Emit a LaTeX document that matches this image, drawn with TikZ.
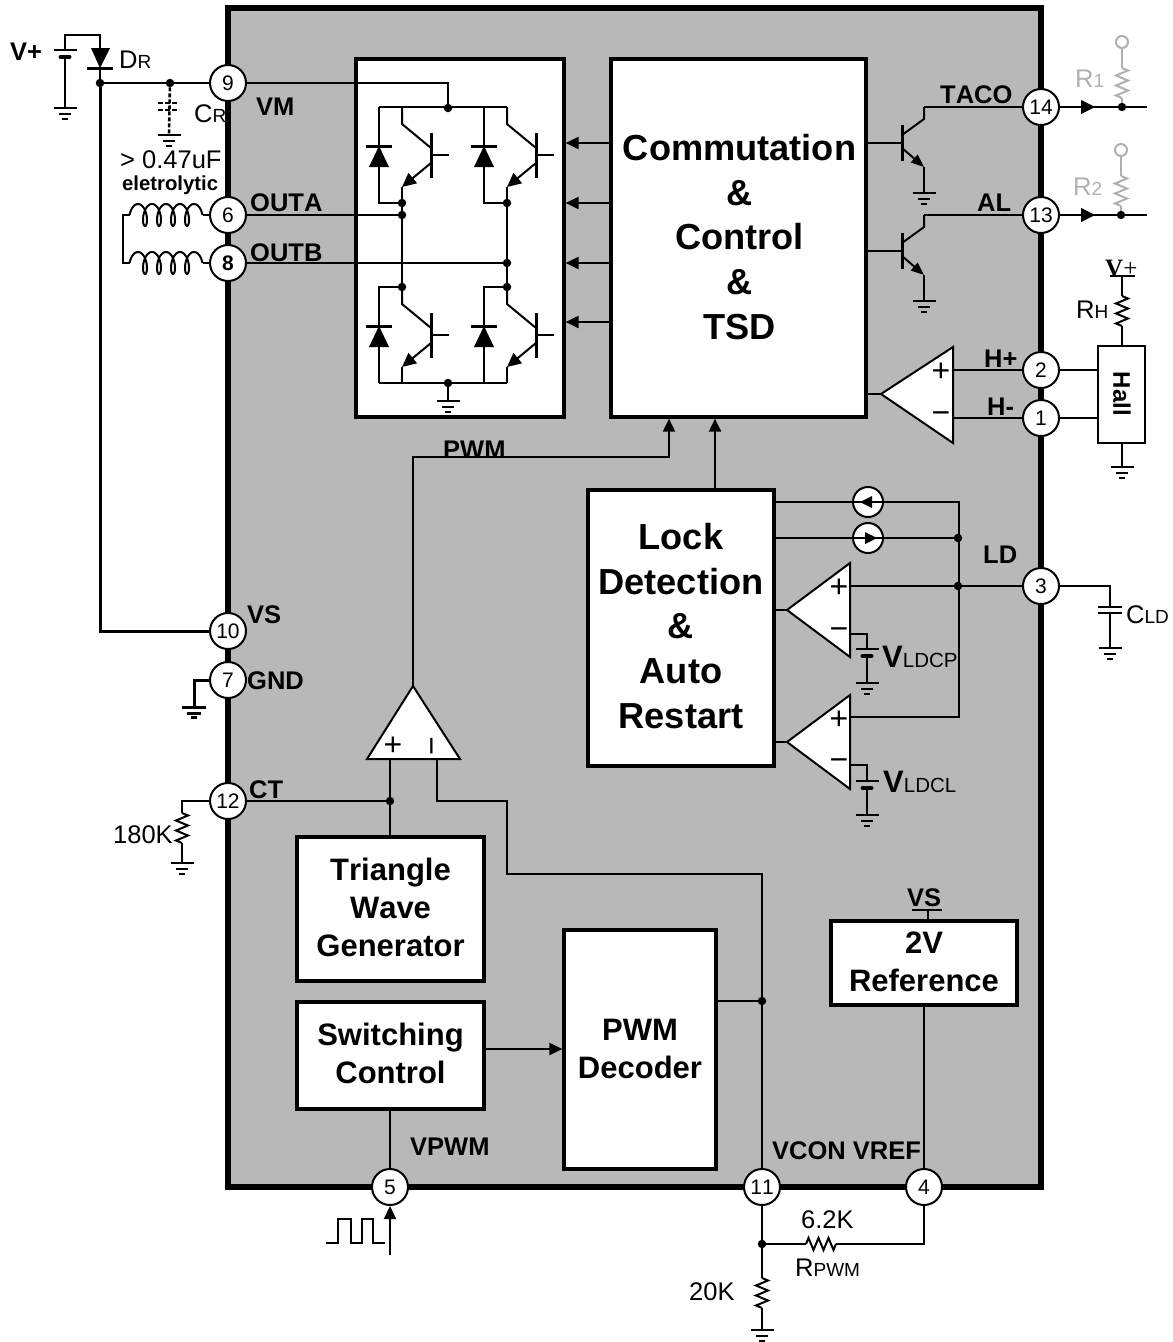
\documentclass[tikz,border=0pt]{standalone}
\usepackage{fontspec}
\setmainfont[Kerning=Off]{Liberation Sans}
\newfontfamily\vserif{Liberation Serif}
\usetikzlibrary{arrows.meta,calc}
\definecolor{chipgray}{RGB}{184,184,184}
\definecolor{softgray}{RGB}{176,176,176}
\newcommand{\fsz}[1]{\fontsize{#1}{#1}\selectfont}
\newcommand{\sublab}[2]{\fsz{25.5}#1\fsz{19}#2}
\tikzset{
  wire/.style={line width=2pt,line join=miter},
  thickwire/.style={line width=3pt},
  blk/.style={draw,fill=white,line width=3.2pt,inner sep=0pt},
  bigtext/.style={inner sep=0pt,align=center,font=\bfseries\fontsize{36.2}{44.7}\selectfont},
  midtext/.style={inner sep=0pt,align=center,font=\bfseries\fontsize{31}{38}\selectfont},
  pinnode/.style={circle,draw,fill=white,line width=2pt,minimum size=36pt,inner sep=0pt,font=\fsz{21}},
  dotnode/.style={circle,fill=black,minimum size=8.5pt,inner sep=0pt},
  lab/.style={inner sep=0pt,anchor=base west,font=\bfseries\fsz{25.5}},
  reg/.style={inner sep=0pt,anchor=base west,font=\fsz{25.5}},
  sign/.style={inner sep=0pt,font=\fsz{32}},
  ahead/.style={-{Triangle[length=13pt,width=12pt]}},
  ehead/.style={-{Triangle[length=14pt,width=13pt]}},
  gndsym/.pic={\draw[line width=2pt] (-11.5,0)--(11.5,0) (-6,6)--(6,6) (-3,11)--(3,11);},
  resv/.pic={\draw[line width=2pt,line join=miter] (0,0)--(6,2.5)--(-6,7.5)--(6,12.5)--(-6,17.5)--(6,22.5)--(-6,27.5)--(0,30);},
  gatebar/.style={line width=3pt},
  igbt/.pic={
    \draw[wire] (0,0)--(0,17)--(29,41);
    \draw[gatebar] (29,26)--(29,71);
    \draw[wire] (29,48)--(47,48);
    \draw[wire,ehead] (29,56)--(0,80);
    \draw[wire] (0,80)--(0,96);
  },
  bdiode/.pic={
    \fill (0,0)--(-10,21)--(10,21)--cycle;
    \draw[line width=3pt] (-13,0)--(13,0);
  },
  npn/.pic={
    \draw[gatebar] (0,-18)--(0,18);
    \draw[wire] (0,-8)--(22,-24)--(22,-36);
    \draw[wire,-{Triangle[length=13pt,width=10pt]}] (0,5)--(22,24);
    \draw[wire] (22,24)--(22,50);
  },
  bat/.pic={
    \draw[line width=2pt] (-11.5,0)--(11.5,0);
    \draw[line width=4pt,line cap=round] (-4.5,7)--(4.5,7);
  },
}
\begin{document}
\begin{tikzpicture}[x=1pt,y=-1pt]
\useasboundingbox (0,0) rectangle (1173,1342);
% chip body
\draw[line width=6pt,fill=chipgray] (228,8) rectangle (1041,1187);

% function blocks
\node[blk,minimum width=208pt,minimum height=358pt] (bridge) at (460,238) {};
\node[blk,minimum width=255pt,minimum height=358pt] (com) at (738.5,238) {};
\node[bigtext] (comt) at (739.5,237) {Commutation\\\&\\Control\\\&\\TSD};
\node[blk,minimum width=186pt,minimum height=276pt] (lock) at (681,628) {};
\node[bigtext] (lockt) at (681,626) {Lock\\Detection\\\&\\Auto\\Restart};
\node[blk,minimum width=187pt,minimum height=144pt] (tri) at (390.5,909) {};
\node[midtext] (trit) at (390.5,907) {Triangle\\Wave\\Generator};
\node[blk,minimum width=187pt,minimum height=107pt] (sw) at (390.5,1055.5) {};
\node[midtext] (swt) at (390.5,1053.5) {Switching\\Control};
\node[blk,minimum width=152pt,minimum height=239pt] (dec) at (640,1049.5) {};
\node[midtext] (dect) at (640,1048.5) {PWM\\Decoder};
\node[blk,minimum width=186pt,minimum height=84pt] (ref) at (924,963) {};
\node[midtext] (reft) at (924,962) {2V\\Reference};
\node[draw,fill=white,line width=2pt,minimum width=47pt,minimum height=97pt,inner sep=0pt] (hall) at (1121.5,394.5) {};
\node[rotate=-90,font=\bfseries\fsz{24},inner sep=0pt] (hallt) at (1122,394) {Hall};

% pins
\foreach \nm/\x/\y/\t in {p9/228/83/9,p6/228/215/6,p10/228/631/10,p7/228/680/7,p12/228/801/12,p14/1041/107/14,p13/1041/215/13,p2/1041/370/2,p1/1041/418/1,p3/1041/586/3,p5/390/1187/5,p11/762/1187/11,p4/924/1187/4}
  \node[pinnode] (\nm) at (\x,\y) {\t};
\node[pinnode,font=\bfseries\fsz{21}] (p8) at (228,263) {8};

% arrows commutation -> bridge
\foreach \y in {143,203,263,322}
  \draw[wire,ahead] (com.west |- 0,\y) -- (bridge.east |- 0,\y);

% H-bridge
\foreach \cx in {402,507}{
  \pic at (\cx,107) {igbt};
  \pic at (\cx,287) {igbt};
  \pic at (\cx-23,146) {bdiode};
  \pic at (\cx-23,326) {bdiode};
  \draw[wire] (\cx-23,107)--(\cx-23,203)--(\cx,203);
  \draw[wire] (\cx,203)--(\cx,287);
  \draw[wire] (\cx,287)--(\cx-23,287)--(\cx-23,383);
}
\draw[wire] (379,107)--(507,107);
\draw[wire] (379,383)--(507,383);
\node[dotnode] (jtop) at (448,108) {};
\node[dotnode] (jbot) at (448,383) {};
\node[dotnode] (ja1) at (402,203) {};
\node[dotnode] (ja) at (402,215) {};
\node[dotnode] (jb1) at (507,203) {};
\node[dotnode] (jb) at (507,263) {};
\node[dotnode] (ja2) at (402,287) {};
\node[dotnode] (jb2) at (507,287) {};
\coordinate (gbr) at (448,401);
\draw[wire] (jbot)--(gbr);
\pic at (gbr) {gndsym};
\draw[wire] (p9)--(jtop |- p9)--(jtop);
\draw[wire] (p6)--(ja);
\draw[wire] (p8)--(jb);

% left external: battery, diode
\coordinate (b1) at (65,50);
\coordinate (d1) at (100,48);
\node[dotnode] (jvm) at (100,83) {};
\node[dotnode] (jcr) at (170,83) {};
\draw[wire] (b1)--(65,35)--(100,35)--(d1);
\pic at (b1) {bat};
\coordinate (gbat) at (65,108);
\draw[wire] (65,57)--(gbat);
\pic at (gbat) {gndsym};
\fill (91,48)--(110,48)--(100,68)--cycle;
\draw[line width=3pt] (87,68)--(113,68);
\draw[wire] (100,68)--(jvm);
\draw[wire] (jvm)--(p9);
\draw[thickwire] (jvm)--(jvm |- p10)--(p10);
\draw[line width=2.6pt,dash pattern=on 4pt off 2pt] (jcr)--(169,135);
\draw[line width=2.6pt,dash pattern=on 5pt off 2pt] (158,103)--(179,103) (158,110)--(179,110);
\coordinate (gcr) at (169,135);
\pic at (gcr) {gndsym};

% coil
\draw[wire] (p6)--(202.5,215);
\draw[wire] plot[domain=-90:1530,samples=160,smooth] ({138+0.03889*\x+5*sin(\x)},{215-11*cos(\x)});
\draw[wire] (129.5,215)--(123,215)--(123,263)--(129.5,263);
\draw[wire] plot[domain=-90:1530,samples=160,smooth] ({138+0.03889*\x+5*sin(\x)},{263-11*cos(\x)});
\draw[wire] (p8)--(202.5,263);

% pin 7 gnd
\coordinate (g7) at (194,707);
\draw[thickwire] (p7)--(g7 |- p7)--(g7);
\draw[line width=3pt] (182,707)--(206,707) (187,713)--(201,713) (191,717.5)--(197,717.5);

% pin 12 external
\coordinate (r12) at (182,813);
\draw[wire] (p12)--(r12 |- p12)--(r12);
\pic at (r12) {resv};
\coordinate (g12) at (182,863);
\draw[wire] (182,843)--(g12);
\pic at (g12) {gndsym};

% TACO & AL transistors
\pic at (902,143) {npn};
\pic at (902,251) {npn};
\draw[wire] (com.east |- 0,143)--(902,143);
\draw[wire] (com.east |- 0,251)--(902,251);
\draw[wire] (924,107)--(p14);
\draw[wire] (924,215)--(p13);
\pic at (924,193) {gndsym};
\pic at (924,301) {gndsym};

% outputs right
\foreach \pn/\yy/\rx/\ct in {p14/107/1122/42,p13/215/1121/150}{
  \coordinate (oe) at (1147,\yy);
  \draw[wire] (\pn)--(oe);
  \draw[line width=1pt,-{Triangle[length=14pt,width=14pt]}] (1075,\yy)--(1095,\yy);
  \draw[softgray,line width=2pt] (\rx,\ct+6)--(\rx,\ct+26) (\rx,\yy)--(\rx,\ct+56);
  \draw[softgray,line width=2pt] (\rx,\ct) circle (6);
  \pic[color=softgray] at (\rx,\ct+26) {resv};
  \fill (\rx,\yy) circle (4.2);
}

% Hall amp
\coordinate (ha) at (881,394);
\coordinate (hb) at (953,347);
\coordinate (hc) at (953,443);
\draw[wire,fill=white] (ha)--(hb)--(hc)--cycle;
\draw[wire] (com.east |- ha)--(ha);
\draw[wire] (953,370)--(p2);
\draw[wire] (953,418)--(p1);
\node[sign] (hp) at (941,372) {+};
\node[sign] (hm) at (941,418) {−};
\draw[wire] (p2)--(hall.west |- p2);
\draw[wire] (p1)--(hall.west |- p1);
\coordinate (vh) at (1122,276);
\draw[wire] (1110,276)--(1135,276);
\draw[wire] (vh)--(1122,296);
\pic at (1122,296) {resv};
\draw[wire] (1122,326)--(hall.north -| 1122,0);
\coordinate (gh) at (1122,467);
\draw[wire] (hall.south -| 1122,0)--(gh);
\pic at (gh) {gndsym};

% lock block comparators
\node[dotnode] (j1) at (958,538) {};
\node[dotnode] (j2) at (958,586) {};
\foreach \yy/\ap/\pp/\mm/\pl/\gg/\hh in {0/610/588/634/649/683/x,1/742/720/765/781/815/y}{
  \draw[wire,fill=white] (787,\ap)--(850,\ap-47)--(850,\ap+47)--cycle;
  \draw[wire] (lock.east |- 0,\ap)--(787,\ap);
  \node[sign] (s\hh p) at (839,\pp) {+};
  \node[sign] (s\hh m) at (839,\mm) {−};
  \draw[wire] (850,\mm)--(867,\mm)--(867,\pl);
  \pic at (867,\pl) {bat};
  \draw[wire] (867,\pl+7)--(867,\gg);
  \pic at (867,\gg) {gndsym};
}
\draw[wire] (lock.east |- 0,502)--(959,502)--(959,717)--(850,717);
\draw[wire] (lock.east |- 0,538)--(j1);
\draw[wire] (850,586)--(p3);
\node[circle,draw,fill=white,line width=2pt,minimum size=30pt,inner sep=0pt] (cs1) at (868,502) {};
\node[circle,draw,fill=white,line width=2pt,minimum size=30pt,inner sep=0pt] (cs2) at (868,538) {};
\draw[wire] (cs1.west)--(cs1.east) (cs2.west)--(cs2.east);
\fill (860,502)--(872,496)--(872,508)--cycle;
\fill (877,538)--(865,532)--(865,544)--cycle;

% CLD
\coordinate (cld) at (1110,607);
\draw[wire] (p3)--(cld |- p3)--(cld);
\draw[line width=2.4pt] (1098,607)--(1122,607) (1098,613)--(1122,613);
\coordinate (gcld) at (1110,648);
\draw[wire] (1110,613)--(gcld);
\pic at (gcld) {gndsym};

% lock -> com
\draw[wire,ahead] (lock.north -| 715,0)--(com.south -| 715,0);

% PWM amp
\coordinate (am) at (413,686);
\draw[wire,fill=white] (am)--(367,759)--(460,759)--cycle;
\node[sign] (amp) at (393,746) {+};
\node[sign,rotate=90] (amm) at (437,746) {−};
\draw[wire,ahead] (am)--(413,457)--(669,457)--(com.south -| 669,0);
\node[dotnode] (jct) at (390,801) {};
\draw[wire] (p12)--(jct);
\draw[wire] (390,759)--(jct)--(tri.north -| jct);
\node[dotnode] (jcon) at (762,1001) {};
\draw[wire] (437,759)--(437,801)--(507,801)--(507,874)--(762,874)--(jcon)--(p11);
\draw[wire] (dec.east |- jcon)--(jcon);
\draw[wire,ahead] (sw.east |- 0,1049)--(dec.west |- 0,1049);
\draw[wire] (sw.south -| p5)--(p5);
\draw[wire] (ref.south -| p4)--(p4);
\coordinate (vsb) at (928,910);
\draw[wire] (912,910)--(942,910);
\draw[wire] (vsb)--(ref.north -| vsb);

% bottom external
\coordinate (inb) at (390,1255);
\draw[wire,ahead] (inb)--(p5);
\draw[wire] (326,1243)--(338,1243)--(338,1219)--(351,1219)--(351,1243)--(362,1243)--(362,1219)--(373,1219)--(373,1243)--(385,1243);
\node[dotnode] (jr) at (762,1244) {};
\draw[wire] (p11)--(jr);
\draw[wire] (jr)--(806,1244);
\pic[rotate=90] at (806,1244) {resv};
\draw[wire] (836,1244)--(924,1244)--(p4);
\draw[wire] (jr)--(762,1278);
\pic at (762,1278) {resv};
\coordinate (g20) at (762,1330);
\draw[wire] (762,1308)--(g20);
\pic at (g20) {gndsym};

% labels
\node[lab] (tv) at (10,60) {V+};
\node[reg] (tdr) at (119,68) {\sublab{D}{R}};
\node[reg] (tcr) at (194,122) {\sublab{C}{R}};
\node[reg] (tc) at (120,168) {> 0.47uF};
\node[lab,font=\bfseries\fsz{20.3}] (tel) at (122,190) {eletrolytic};
\node[lab] (tvm) at (256,115) {VM};
\node[lab] (toa) at (250,211) {OUTA};
\node[lab] (tob) at (250,261) {OUTB};
\node[lab] (tvs) at (247,623) {VS};
\node[lab] (tgnd) at (247,689) {GND};
\node[lab] (tct) at (249,798) {CT};
\node[reg] (t180) at (113,843) {180K};
\node[lab] (tpwm) at (443,458) {PWM};
\node[lab] (tta) at (940,103) {TACO};
\node[lab] (tal) at (977,211) {AL};
\node[lab] (thp) at (984,367) {H+};
\node[lab] (thm) at (987,415) {H-};
\node[lab] (tld) at (983,563) {LD};
\node[reg,text=softgray] (tr1) at (1075,87) {\sublab{R}{1}};
\node[reg,text=softgray] (tr2) at (1073,195) {\sublab{R}{2}};
\node[reg] (trh) at (1076,318) {\sublab{R}{H}};
\node[reg,font=\vserif\fsz{25}] (tvp) at (1105,276) {\textbf{V}+};
\node[reg] (tcld) at (1126,623) {\sublab{C}{LD}};
\node[reg] (tl1) at (882,667) {\fsz{31}\textbf{V}\fsz{20.5}LDCP};
\node[reg] (tl2) at (883,792) {\fsz{31}\textbf{V}\fsz{20.5}LDCL};
\node[lab,anchor=base] (tvs2) at (924,906) {VS};
\node[lab] (tvp2) at (410,1155) {VPWM};
\node[lab] (tvc) at (772,1159) {VCON VREF};
\node[reg] (t62) at (801,1228) {6.2K};
\node[reg] (t20) at (689,1300) {20K};
\node[reg] (trp) at (795,1276) {\sublab{R}{PWM}};
\end{tikzpicture}
\end{document}
